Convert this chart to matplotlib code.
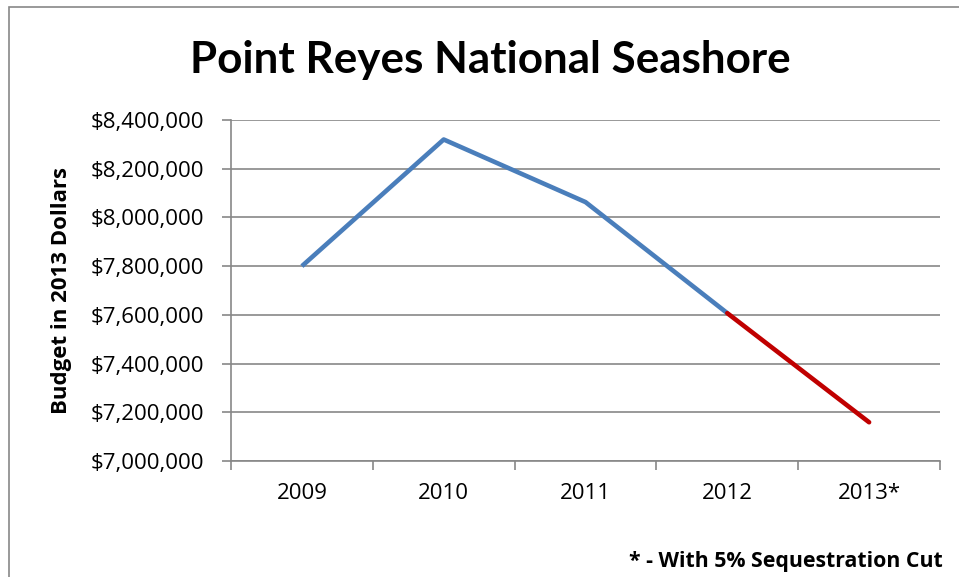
import matplotlib
matplotlib.use('Agg')
import matplotlib.pyplot as plt
from matplotlib.patches import Rectangle
from matplotlib.ticker import FuncFormatter

# Данные графика
years = ['2009', '2010', '2011', '2012', '2013*']
budget = [7800000, 8320000, 8063000, 7607000, 7159000]
y_ticks = [7000000, 7200000, 7400000, 7600000, 7800000, 8000000, 8200000, 8400000]

plt.rcParams['font.family'] = ['Open Sans', 'DejaVu Sans']

fig = plt.figure(figsize=(9.59, 5.77), dpi=100)
ax = fig.add_axes([231 / 959, 1 - 461 / 577, (940 - 231) / 959, (461 - 120) / 577])

x = list(range(len(years)))
# синяя часть — фактический бюджет, красная — с секвестром
ax.plot(x[:4], budget[:4], color='#4A7EBB', linewidth=3.3, solid_capstyle='butt',
        solid_joinstyle='round', zorder=3)
ax.plot(x[3:], budget[3:], color='#C00000', linewidth=3.3, solid_capstyle='round', zorder=3)

ax.set_xlim(-0.5, len(years) - 0.5)
ax.set_ylim(y_ticks[0], y_ticks[-1])
ax.set_yticks(y_ticks)
ax.yaxis.set_major_formatter(FuncFormatter(lambda v, p: '${:,.0f}'.format(v)))
ax.grid(axis='y', color='#878787', linewidth=1.2)
ax.set_axisbelow(True)

ax.set_xticks(x)
ax.set_xticklabels(years)
ax.set_xticks([i - 0.5 for i in range(len(years) + 1)], minor=True)
ax.tick_params(axis='x', which='major', length=0, pad=16, labelsize=16)
ax.tick_params(axis='x', which='minor', length=6.5, width=1.2, color='#878787')
ax.tick_params(axis='y', length=6.5, width=1.2, color='#878787', labelsize=16, pad=12.5)

for side in ['top', 'right']:
    ax.spines[side].set_visible(False)
for side in ['left', 'bottom']:
    ax.spines[side].set_color('#878787')
    ax.spines[side].set_linewidth(1.2)

ax.set_ylabel('Budget in 2013 Dollars', fontsize=16, fontweight='bold', va='center')
ax.yaxis.set_label_coords((62 - 231) / 709, 0.5)

fig.text(490 / 959, 1 - 60 / 577, 'Point Reyes National Seashore', fontsize=31.7,
         fontweight='bold', ha='center', va='center', family=['Lato', 'DejaVu Sans'])
fig.text(943 / 959, 1 - 562 / 577, '* - With 5% Sequestration Cut', fontsize=15.3,
         fontweight='bold', ha='right', va='center')

# рамка вокруг всей диаграммы
fig.patches.append(Rectangle((9 / 959, -0.2), 2, 1.2 - 7 / 577, transform=fig.transFigure,
                             fill=False, edgecolor='#878787', linewidth=1.2))

fig.savefig('out.png', dpi=100)
